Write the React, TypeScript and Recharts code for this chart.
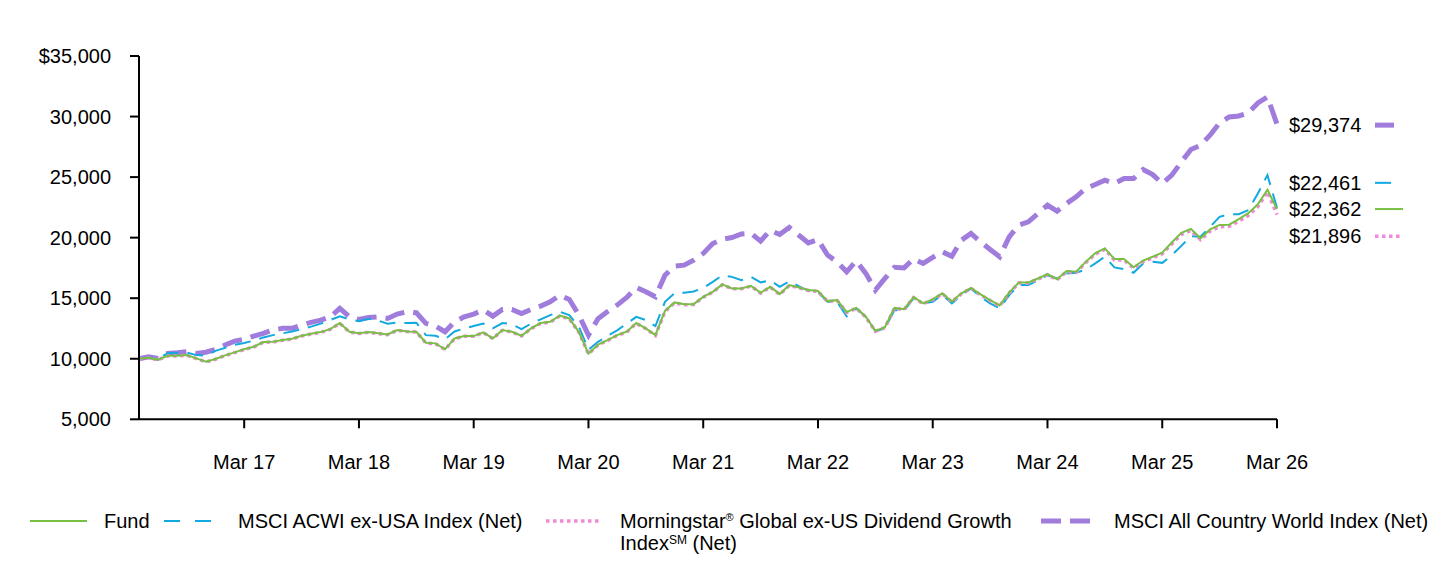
import { Line, LineChart, XAxis, YAxis } from 'recharts';

// growth of $10,000, monthly, Apr 16 .. Mar 26
const fund = [
  10000, 10080, 9930, 10250, 10250, 10300, 10030, 9760, 9980, 10280,
  10530, 10780, 10990, 11380, 11400, 11540, 11650, 11900, 12060, 12200,
  12450, 12950, 12230, 12100, 12200, 12100, 12010, 12370, 12260, 12230,
  11320, 11270, 10780, 11680, 11870, 11870, 12180, 11680, 12370, 12230,
  11900, 12510, 12950, 13050, 13560, 13330, 12200, 10420, 11160, 11540,
  11950, 12230, 12950, 12510, 11950, 13950, 14650, 14500, 14510, 15110,
  15530, 16140, 15810, 15810, 16020, 15450, 15940, 15340, 16080, 15890,
  15670, 15590, 14760, 14840, 13850, 14200, 13470, 12300, 12600, 14200,
  14090, 15090, 14570, 14900, 15400, 14730, 15400, 15850, 15310, 14840,
  14400, 15480, 16290, 16300, 16630, 16990, 16570, 17250, 17180, 18000,
  18720, 19110, 18230, 18230, 17560, 18110, 18420, 18760, 19600, 20400,
  20720, 19950, 20680, 21050, 21070, 21530, 22020, 22760, 23950, 22362,
];

const acwiExUsa = [
  10000, 10100, 10000, 10450, 10500, 10500, 10300, 10250, 10650, 10900,
  11150, 11300, 11500, 11750, 11950, 12100, 12250, 12450, 12650, 12900,
  13200, 13500, 13250, 13100, 13300, 13150, 12900, 12980, 12950, 12980,
  11950, 11900, 11600, 12250, 12500, 12700, 12900, 12500, 12950, 12850,
  12450, 12900, 13250, 13600, 13880, 13600, 12640, 10750, 11400, 11900,
  12350, 12900, 13460, 13190, 12700, 14700, 15400, 15450, 15550, 15850,
  16350, 16900, 16760, 16490, 16760, 16300, 16490, 15940, 16400, 15990,
  15610, 15530, 14700, 14700, 13500, 14170, 13460, 12290, 12500, 14020,
  13960, 15000, 14570, 14700, 15260, 14570, 15260, 15810, 15115, 14570,
  14160, 15260, 16080, 16080, 16490, 16900, 16630, 17040, 17100, 17370,
  17870, 18420, 17540, 17400, 17100, 17870, 18000, 17920, 18550, 19320,
  20120, 20070, 20900, 21720, 21940, 21940, 22270, 23645, 25160, 22461,
];

const morningstar = [
  10000, 10060, 9910, 10230, 10230, 10280, 10010, 9740, 9960, 10260,
  10510, 10760, 10970, 11360, 11380, 11520, 11630, 11880, 12040, 12180,
  12430, 12920, 12210, 12080, 12180, 12080, 11990, 12350, 12240, 12210,
  11300, 11250, 10760, 11660, 11850, 11850, 12160, 11660, 12350, 12210,
  11880, 12490, 12920, 13020, 13520, 13300, 12180, 10400, 11130, 11510,
  11920, 12200, 12920, 12480, 11920, 13910, 14610, 14460, 14480, 15080,
  15500, 16110, 15780, 15780, 15990, 15420, 15910, 15310, 16050, 15860,
  15640, 15560, 14730, 14810, 13820, 14170, 13440, 12270, 12570, 14160,
  14060, 15050, 14540, 14870, 15360, 14700, 15360, 15810, 15270, 14800,
  14360, 15430, 16250, 16260, 16580, 16940, 16520, 17190, 17120, 17930,
  18640, 19030, 18150, 18150, 17480, 18020, 18330, 18660, 19480, 20260,
  20580, 19830, 20540, 20900, 20930, 21360, 21830, 22560, 23780, 21896,
];

const acwi = [
  10000, 10160, 10030, 10445, 10500, 10580, 10445, 10540, 10775, 11130,
  11460, 11600, 11870, 12100, 12370, 12510, 12510, 12780, 13000, 13190,
  13460, 14160, 13460, 13250, 13400, 13460, 13330, 13690, 13880, 13800,
  12920, 12700, 12230, 13050, 13460, 13690, 14020, 13520, 14075, 14075,
  13740, 14075, 14350, 14700, 15250, 14900, 13600, 11950, 13300, 13900,
  14430, 15065, 15890, 15530, 15115, 16900, 17650, 17730, 18140, 18695,
  19520, 19870, 20010, 20300, 20350, 19710, 20600, 20260, 20840, 20200,
  19570, 19850, 18560, 18000, 17180, 18090, 17050, 15670, 16630, 17550,
  17500, 18250, 17870, 18370, 18830, 18470, 19790, 20350, 19650, 19025,
  18420, 20070, 21040, 21300, 21990, 22680, 22190, 22820, 23365, 24060,
  24390, 24740, 24470, 24880, 24880, 25625, 25210, 24470, 25160, 26250,
  27280, 27630, 28460, 29470, 29970, 30050, 30300, 31120, 31620, 29374,
];

const tickIndex = [11, 23, 35, 47, 59, 71, 83, 95, 107, 119];
const tickLabels = ['Mar 17', 'Mar 18', 'Mar 19', 'Mar 20', 'Mar 21', 'Mar 22', 'Mar 23', 'Mar 24', 'Mar 25', 'Mar 26'];
const yTicks = [5000, 10000, 15000, 20000, 25000, 30000, 35000];

const FONT = '"Liberation Sans", Arial, sans-serif';
const last = fund.length - 1;

const data = fund.map((v, i) => ({
  i,
  fund: v,
  acwiExUsa: acwiExUsa[i],
  morningstar: morningstar[i],
  acwi: acwi[i],
}));

const series = [
  { key: 'acwi', values: acwi, color: '#A07CDC', width: 5, dash: '20 9', labelDy: 1, swatch: 19 },
  { key: 'acwiExUsa', values: acwiExUsa, color: '#11A9E0', width: 2, dash: '16 9', labelDy: -25, swatch: 18 },
  { key: 'morningstar', values: morningstar, color: '#F08AD8', width: 3.5, dash: '3.5 3.5', labelDy: 21.5, swatch: 27 },
  { key: 'fund', values: fund, color: '#78C043', width: 2, dash: undefined, labelDy: 0, swatch: 28 },
];

const money = (v: number) => '$' + v.toLocaleString('en-US');

const endDot = (s: (typeof series)[number]) => (p: any) => {
  if (p.index !== last) return <g key={`d-${s.key}-${p.index}`} />;
  const cy = p.cy + s.labelDy;
  return (
    <g key={`end-${s.key}`}>
      <text x={p.cx + 12} y={cy} dy="0.35em" fontSize={20} fontFamily={FONT} fill="#000">
        {money(s.values[last])}
      </text>
      <line
        x1={p.cx + 98}
        x2={p.cx + 98 + s.swatch}
        y1={cy}
        y2={cy}
        stroke={s.color}
        strokeWidth={s.width}
        strokeDasharray={s.dash}
      />
    </g>
  );
};

function Swatch({ color, width, dash, len }: { color: string; width: number; dash?: string; len: number }) {
  return (
    <svg width={len} height={10} style={{ position: 'absolute', top: 6 }}>
      <line x1={0} x2={len} y1={5} y2={5} stroke={color} strokeWidth={width} strokeDasharray={dash} />
    </svg>
  );
}

const txt: React.CSSProperties = { position: 'absolute', top: 0, fontSize: 20, lineHeight: '22px', whiteSpace: 'nowrap', color: '#000' };

export default function App() {
  return (
    <div style={{ position: 'absolute', left: 0, top: 0, width: 1440, height: 564, background: '#fff', fontFamily: FONT }}>
      <LineChart width={1440} height={564} data={data} margin={{ top: 56, right: 163, left: 0, bottom: 114.7 }}>
        <XAxis
          dataKey="i"
          type="number"
          domain={[0, last]}
          ticks={tickIndex}
          interval={0}
          tickFormatter={(v: number) => tickLabels[tickIndex.indexOf(v)]}
          height={30}
          stroke="#000"
          strokeWidth={2}
          tickSize={9}
          tickMargin={26}
          tick={{ fill: '#000', fontSize: 20, fontFamily: FONT }}
        />
        <YAxis
          domain={[5000, 35000]}
          ticks={yTicks}
          interval={0}
          width={139}
          tickFormatter={(v: number) => (v === 35000 ? '$35,000' : v.toLocaleString('en-US'))}
          stroke="#000"
          strokeWidth={2}
          tickSize={9}
          tickMargin={19}
          tick={{ fill: '#000', fontSize: 20, fontFamily: FONT }}
        />
        {series.map((s) => (
          <Line
            key={s.key}
            dataKey={s.key}
            type="linear"
            stroke={s.color}
            strokeWidth={s.width}
            strokeDasharray={s.dash}
            dot={endDot(s)}
            activeDot={false}
            isAnimationActive={false}
          />
        ))}
      </LineChart>

      <div style={{ position: 'absolute', left: 0, top: 510, width: 1440, height: 50 }}>
        <div style={{ position: 'absolute', left: 30 }}>
          <Swatch color="#78C043" width={2} len={57} />
        </div>
        <span style={{ ...txt, left: 104 }}>Fund</span>
        <div style={{ position: 'absolute', left: 164 }}>
          <Swatch color="#11A9E0" width={2} dash="16 15" len={47} />
        </div>
        <span style={{ ...txt, left: 238 }}>MSCI ACWI ex-USA Index (Net)</span>
        <div style={{ position: 'absolute', left: 546 }}>
          <Swatch color="#F08AD8" width={3.5} dash="3.5 3.5" len={56} />
        </div>
        <span style={{ ...txt, left: 620 }}>
          Morningstar<sup style={{ fontSize: 11, verticalAlign: 'top', lineHeight: '14px' }}>®</sup> Global ex-US Dividend Growth
          <br />
          Index<span style={{ fontSize: 12, verticalAlign: 'top', lineHeight: '16px' }}>SM</span> (Net)
        </span>
        <div style={{ position: 'absolute', left: 1041 }}>
          <Swatch color="#A07CDC" width={5} dash="20 9" len={49} />
        </div>
        <span style={{ ...txt, left: 1114 }}>MSCI All Country World Index (Net)</span>
      </div>
    </div>
  );
}
